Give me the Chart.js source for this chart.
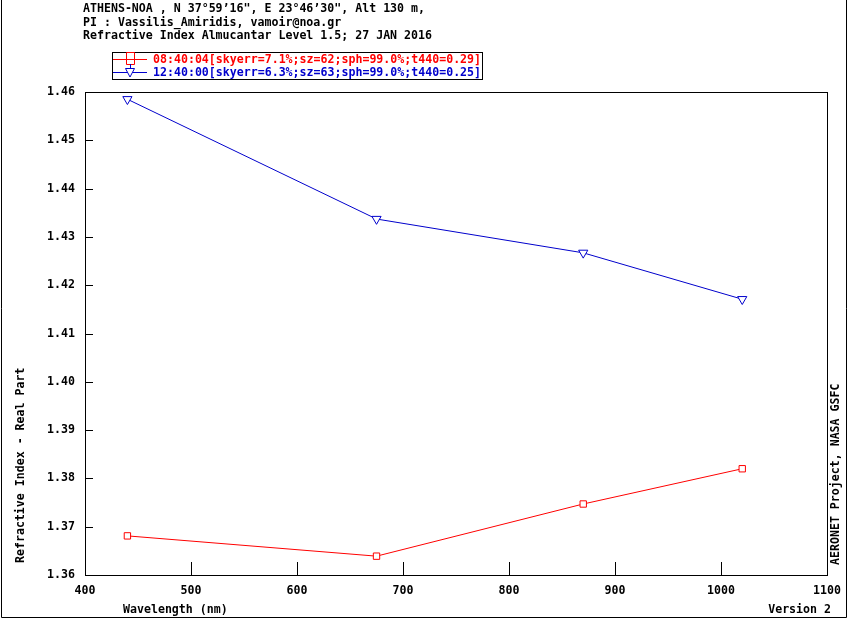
<!DOCTYPE html>
<html>
<head>
<meta charset="utf-8">
<script src="https://cdn.jsdelivr.net/npm/chart.js@4/dist/chart.umd.min.js"></script>
<style>
html,body{margin:0;padding:0;background:#fff;}
canvas{display:block;}
</style>
</head>
<body>
<canvas id="c" width="850" height="620"></canvas>
<script>
// data
const wavelengths = [440, 675, 870, 1020];
const riMorning = [1.3681, 1.3639, 1.3747, 1.3820];
const riNoon = [1.4585, 1.4337, 1.4267, 1.4171];
const seriesLabels = [
'08:40:04[skyerr=7.1%;sz=62;sph=99.0%;t440=0.29]',
'12:40:00[skyerr=6.3%;sz=63;sph=99.0%;t440=0.25]'
];
const headerLines = [
'ATHENS-NOA , N 37°59’16", E 23°46’30", Alt 130 m,',
'PI : Vassilis_Amiridis, vamoir@noa.gr',
'Refractive Index Almucantar Level 1.5; 27 JAN 2016'
];
const xTicks = [400, 500, 600, 700, 800, 900, 1000, 1100];
const yTicks = [1.36, 1.37, 1.38, 1.39, 1.40, 1.41, 1.42, 1.43, 1.44, 1.45, 1.46];

const RED = '#ff0000', BLUE = '#0000cc';
const FONT = 'bold 11.6px "DejaVu Sans Mono", monospace';

function pts(xs, ys){ return xs.map((x,i)=>({x:x, y:ys[i]})); }

const decor = {
id:'decor',
afterDraw(chart){
const ctx = chart.ctx, a = chart.chartArea;
const xs = chart.scales.x, ys = chart.scales.y;
ctx.save();
ctx.strokeStyle = '#000'; ctx.lineWidth = 1;
// outer frame
ctx.beginPath();
ctx.moveTo(1.5, 0); ctx.lineTo(1.5, 617.5); ctx.lineTo(846.5, 617.5); ctx.lineTo(846.5, 0);
ctx.stroke();
// plot box
ctx.strokeRect(Math.round(a.left)+0.5, Math.round(a.top)+0.5, Math.round(a.right-a.left), Math.round(a.bottom-a.top));
// inside ticks
ctx.beginPath();
xTicks.forEach(v=>{
const px = Math.round(xs.getPixelForValue(v))+0.5;
ctx.moveTo(px, a.bottom); ctx.lineTo(px, a.bottom-13);
});
yTicks.forEach(v=>{
const py = Math.round(ys.getPixelForValue(v))+0.5;
ctx.moveTo(a.left, py); ctx.lineTo(a.left+8, py);
});
ctx.stroke();

ctx.font = FONT; ctx.fillStyle = '#000'; ctx.textBaseline = 'middle'; ctx.textAlign = 'left';
const hy = [9, 23, 36];
headerLines.forEach((t,i)=>ctx.fillText(t, 83, hy[i]));

// legend box
ctx.strokeRect(112.5, 52.5, 370, 27);
const rows = [59, 72];
chart.data.datasets.forEach((ds,i)=>{
const y = rows[i];
ctx.strokeStyle = ds.borderColor; ctx.lineWidth = 1;
ctx.beginPath(); ctx.moveTo(113, y+0.5); ctx.lineTo(147, y+0.5); ctx.stroke();
ctx.fillStyle = '#fff';
if (i === 0){
ctx.beginPath();
ctx.rect(126.5, y-6.5, 8, 12);
ctx.moveTo(126.5, y+0.5); ctx.lineTo(134.5, y+0.5);
ctx.stroke();
} else {
ctx.beginPath();
ctx.moveTo(125.5, y-3.5); ctx.lineTo(134.5, y-3.5); ctx.lineTo(130, y+5); ctx.closePath();
ctx.fill(); ctx.stroke();
ctx.beginPath(); ctx.moveTo(130.5, y-8); ctx.lineTo(130.5, y-3); ctx.stroke();
}
ctx.fillStyle = ds.borderColor;
ctx.fillText(ds.label, 153, y+1);
});

// axis captions
ctx.fillStyle = '#000';
ctx.fillText('Wavelength (nm)', 123, 610);
ctx.textAlign = 'right';
ctx.fillText('Version 2', 831, 610);
ctx.save();
ctx.translate(21, 563); ctx.rotate(-Math.PI/2);
ctx.textAlign = 'left';
ctx.fillText('Refractive Index - Real Part', 0, 0);
ctx.restore();
ctx.save();
ctx.translate(836, 565); ctx.rotate(-Math.PI/2);
ctx.textAlign = 'left';
ctx.fillText('AERONET Project, NASA GSFC', 0, 0);
ctx.restore();
ctx.restore();
}
};

new Chart(document.getElementById('c'), {
type:'line',
data:{
datasets:[
{label:seriesLabels[0], data:pts(wavelengths, riMorning), borderColor:RED, borderWidth:1,
pointStyle:'rect', pointRadius:4.5, pointBorderWidth:1, pointBackgroundColor:'#fff', pointBorderColor:RED, tension:0},
{label:seriesLabels[1], data:pts(wavelengths, riNoon), borderColor:BLUE, borderWidth:1,
pointStyle:'triangle', pointRotation:180, pointRadius:5.3, pointBorderWidth:1, pointBackgroundColor:'#fff', pointBorderColor:BLUE, tension:0}
]
},
options:{
responsive:false, animation:false, devicePixelRatio:1,
layout:{padding:{left:0, top:92, right:21, bottom:0}},
plugins:{legend:{display:false}, tooltip:{enabled:false}},
scales:{
x:{type:'linear', min:400, max:1100,
afterFit(s){ s.height = 45; },
afterBuildTicks(s){ s.ticks = xTicks.map(v=>({value:v})); },
grid:{display:false, drawTicks:false, tickLength:0}, border:{display:false},
ticks:{color:'#000', font:{family:'"DejaVu Sans Mono", monospace', size:11.6, weight:'bold'}, padding:9, maxRotation:0,
callback:v=>String(v)}},
y:{type:'linear', min:1.36, max:1.46,
afterFit(s){ s.width = 85; },
afterBuildTicks(s){ s.ticks = yTicks.map(v=>({value:v})); },
grid:{display:false, drawTicks:false, tickLength:0}, border:{display:false},
ticks:{color:'#000', font:{family:'"DejaVu Sans Mono", monospace', size:11.6, weight:'bold'}, padding:10,
callback:v=>Number(v).toFixed(2)}}
}
},
plugins:[decor]
});
</script>
</body>
</html>
